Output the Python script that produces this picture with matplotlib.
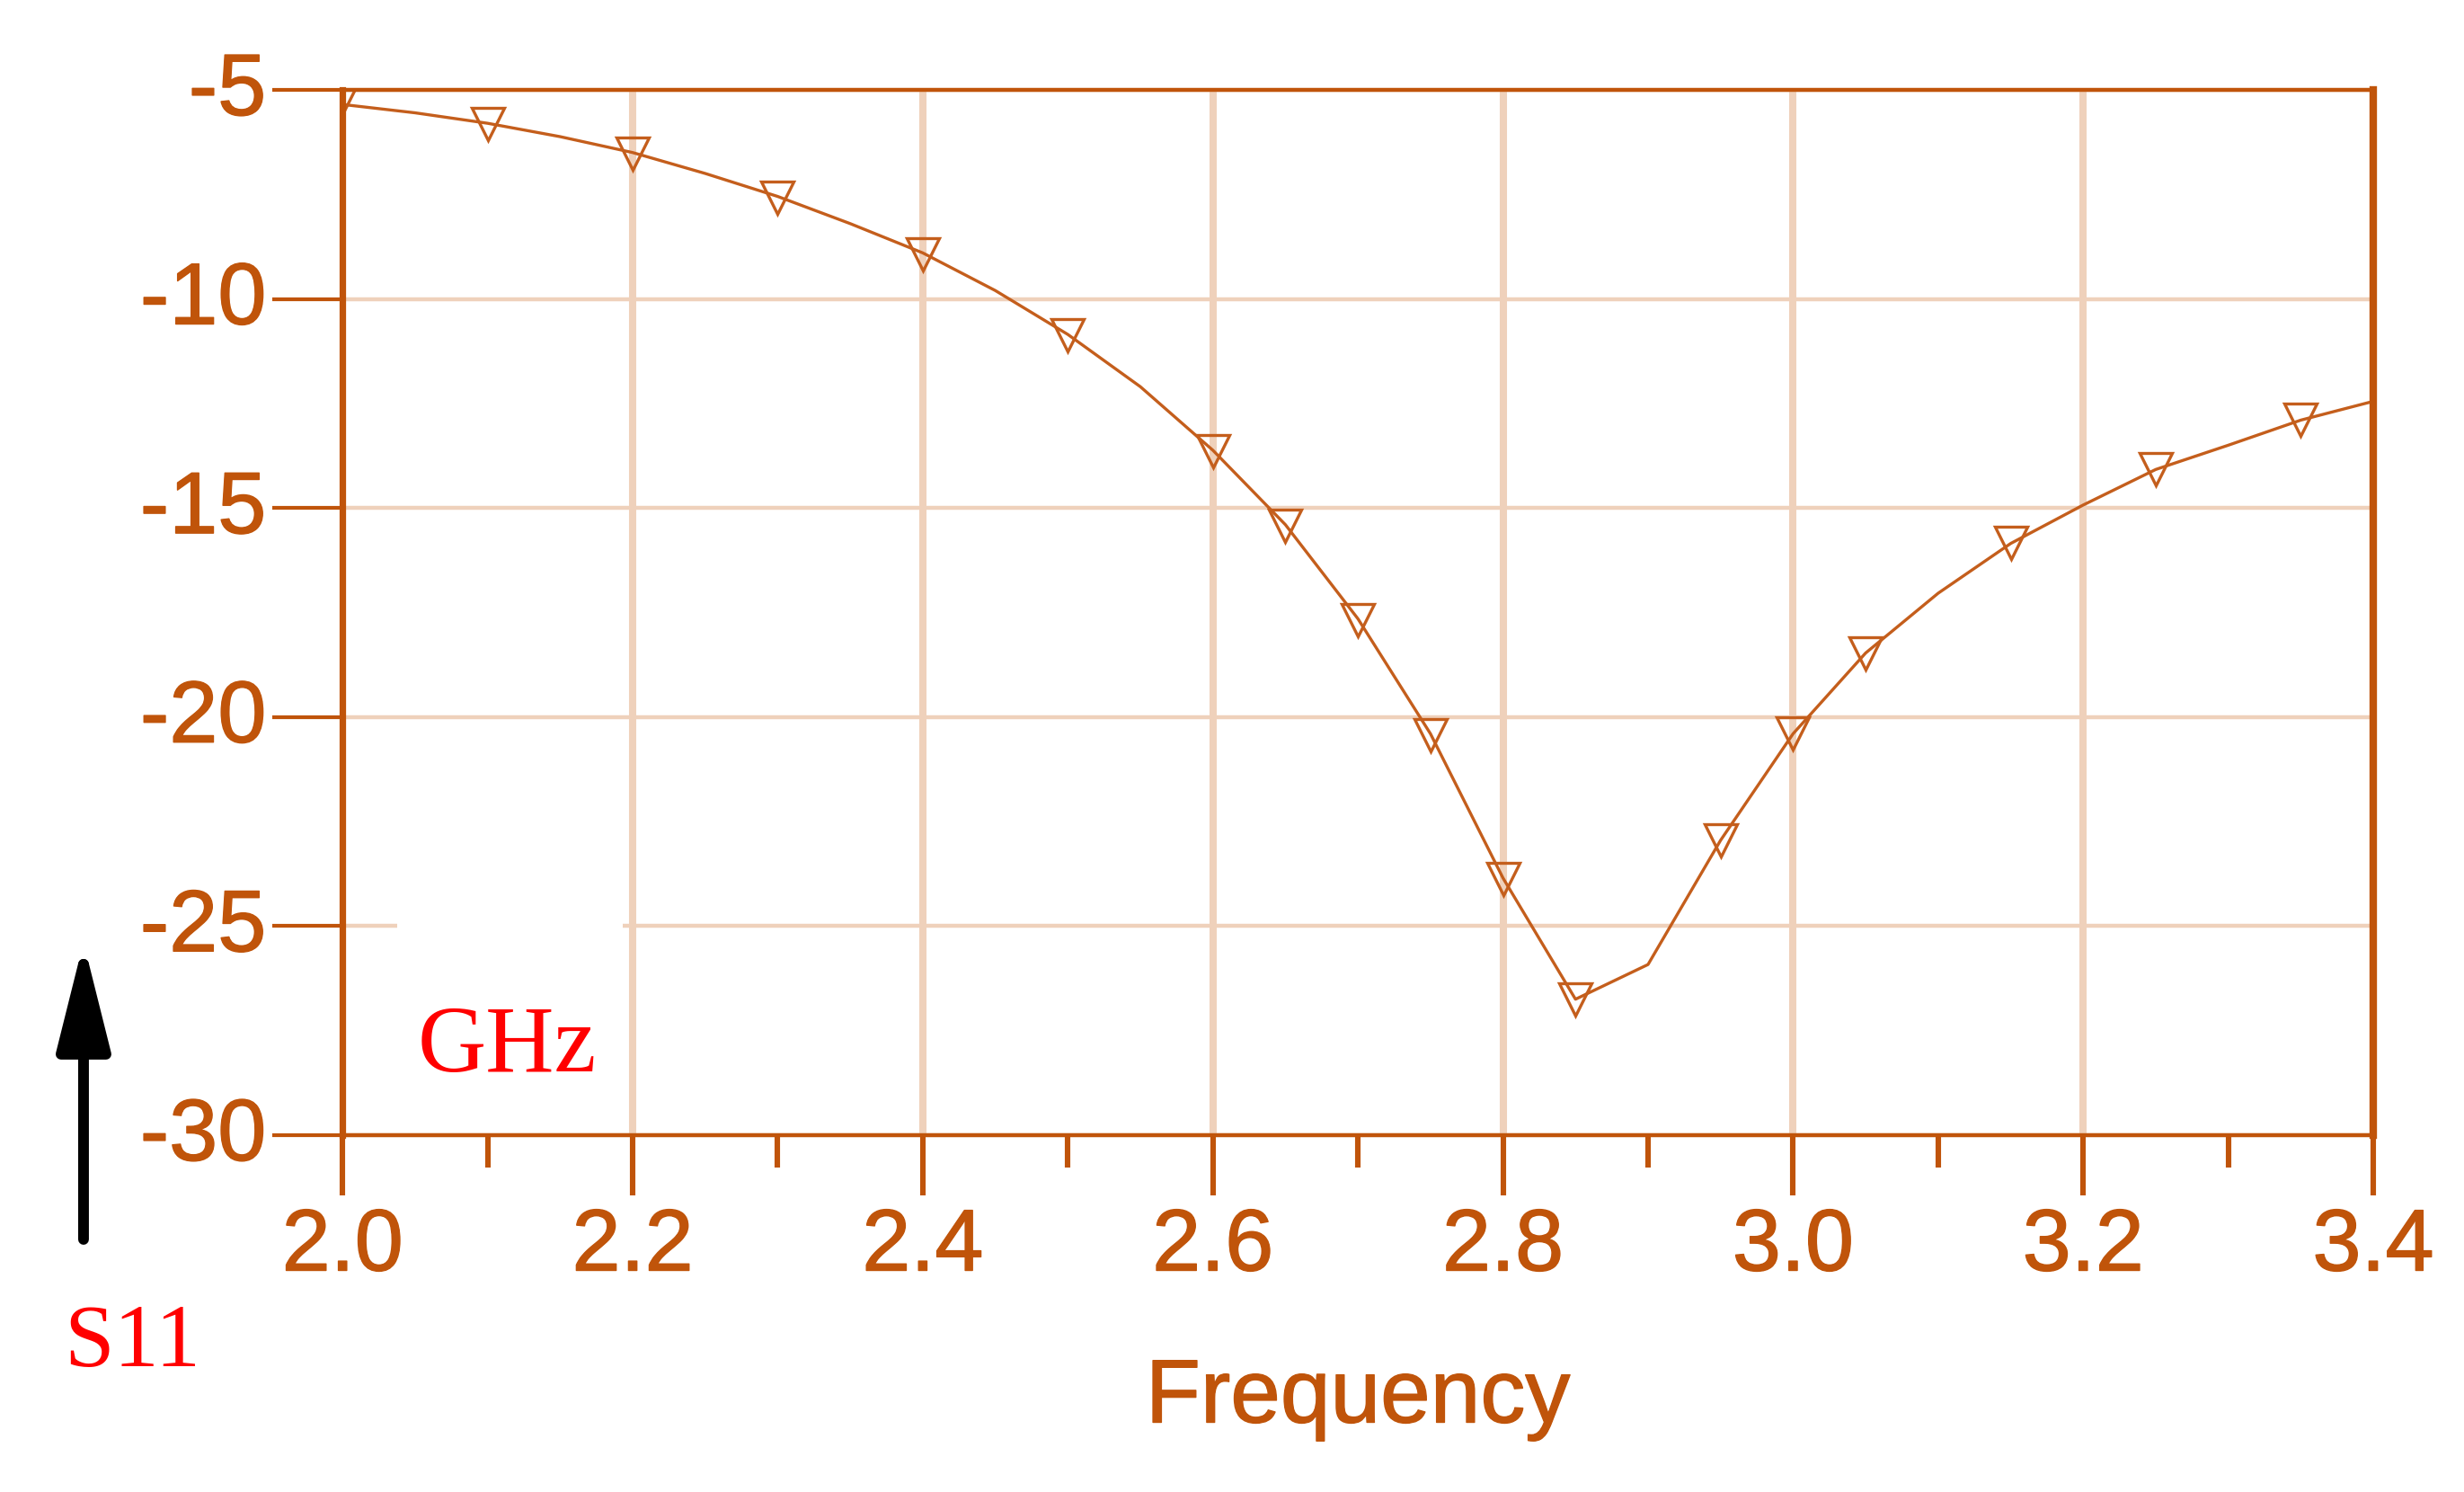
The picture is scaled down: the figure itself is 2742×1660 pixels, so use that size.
# S11 vs frequency, recreated
import matplotlib.pyplot as plt
import matplotlib.transforms as mtransforms
import matplotlib.patheffects as pe
from matplotlib.patches import Rectangle, FancyArrowPatch
from matplotlib.ticker import MultipleLocator

plt.rcParams['font.family'] = ['Liberation Sans', 'DejaVu Sans']

# curve (GHz, dB)
freq = [2.00, 2.05, 2.10, 2.15, 2.20, 2.25, 2.30, 2.35, 2.40, 2.45, 2.50, 2.55, 2.60, 2.65,
        2.70, 2.75, 2.80, 2.85, 2.90, 2.95, 3.00, 3.05, 3.10, 3.15, 3.20, 3.25, 3.30, 3.35, 3.40]
s11 = [-5.35, -5.55, -5.80, -6.12, -6.50, -7.00, -7.55, -8.20, -8.90, -9.80, -10.85, -12.10, -13.62,
       -15.40, -17.65, -20.40, -23.85, -26.75, -25.92, -22.95, -20.40, -18.47, -17.04, -15.85,
       -14.93, -14.08, -13.50, -12.90, -12.45]

# marker points
mark_freq = [2.0, 2.1, 2.2, 2.3, 2.4, 2.5, 2.6, 2.65, 2.7, 2.75, 2.8, 2.85, 2.95, 3.0, 3.05, 3.15, 3.25, 3.35]
mark_s11 = [-5.2, -5.82, -6.52, -7.59, -8.93, -10.87, -13.64, -15.43, -17.68, -20.43, -23.87, -26.75,
            -22.96, -20.4, -18.48, -15.83, -14.07, -12.89]

x_ticks = [2.0, 2.2, 2.4, 2.6, 2.8, 3.0, 3.2, 3.4]
x_labels = ['2.0', '2.2', '2.4', '2.6', '2.8', '3.0', '3.2', '3.4']
y_ticks = [-30, -25, -20, -15, -10, -5]
y_labels = ['-30', '-25', '-20', '-15', '-10', '-5']

dark = '#C0540A'
line_c = '#C45E1C'
grid_c = '#EFD1BB'

fig = plt.figure(figsize=(13.71, 8.30), dpi=200)
ax = fig.add_axes([0.139, 0.2392, 0.8242, 0.7006])

ax.plot(freq, s11, color=line_c, lw=1.2)
ax.plot(mark_freq, mark_s11, ls='none', marker='v', ms=13, mfc='none', mec=line_c, mew=1.2)

ax.set_xlim(2.0, 3.4)
ax.set_ylim(-30, -5)
ax.set_xticks(x_ticks)
ax.set_xticklabels(x_labels)
ax.xaxis.set_minor_locator(MultipleLocator(0.1))
ax.set_yticks(y_ticks)
ax.set_yticklabels(y_labels)

ax.set_axisbelow(True)
ax.xaxis.grid(True, color=grid_c, lw=2.9)
ax.yaxis.grid(True, color=grid_c, lw=1.6)

# small break in the -25 grid line
ax.add_patch(Rectangle((2.038, -25.25), 0.155, 0.5, facecolor='white', edgecolor='none', zorder=1))

for side in ['top', 'bottom']:
    ax.spines[side].set_linewidth(1.6)
    ax.spines[side].set_color(dark)
ax.spines['left'].set_linewidth(2.6)
ax.spines['left'].set_color(dark)
ax.spines['right'].set_linewidth(3.0)
ax.spines['right'].set_color(dark)

ax.tick_params(axis='x', which='major', direction='out', length=24, width=2.2, color=dark,
               labelcolor=dark, labelsize=35, pad=5)
ax.tick_params(axis='x', which='minor', direction='out', length=13, width=2.2, color=dark)
ax.tick_params(axis='y', direction='out', length=28, width=1.5, color=dark,
               labelcolor=dark, labelsize=35, pad=2.5)

thick = [pe.withStroke(linewidth=0.5, foreground=dark)]
offset = mtransforms.ScaledTranslation(0, 7 / 200, fig.dpi_scale_trans)
for lbl in ax.get_yticklabels():
    lbl.set_transform(lbl.get_transform() + offset)
    lbl.set_path_effects(thick)
for lbl in ax.get_xticklabels():
    lbl.set_path_effects(thick)

ax.set_xlabel('Frequency', fontsize=36, color=dark, path_effects=thick)
ax.xaxis.set_label_coords(0.5, -0.212)

fig.text(0.2057, 0.2819, 'GHz', color='red', fontsize=38, family='Liberation Serif',
         ha='center', va='baseline')
fig.text(0.0536, 0.0846, 'S11', color='red', fontsize=36, family='Liberation Serif',
         ha='center', va='baseline')

arrow = FancyArrowPatch((0.0339, 0.1693), (0.0339, 0.3685), transform=fig.transFigure,
                        arrowstyle='-|>,head_length=3.6,head_width=0.9', mutation_scale=10,
                        lw=4.3, color='black', shrinkA=0, shrinkB=0)
fig.add_artist(arrow)

fig.savefig('out.png', dpi=200)
